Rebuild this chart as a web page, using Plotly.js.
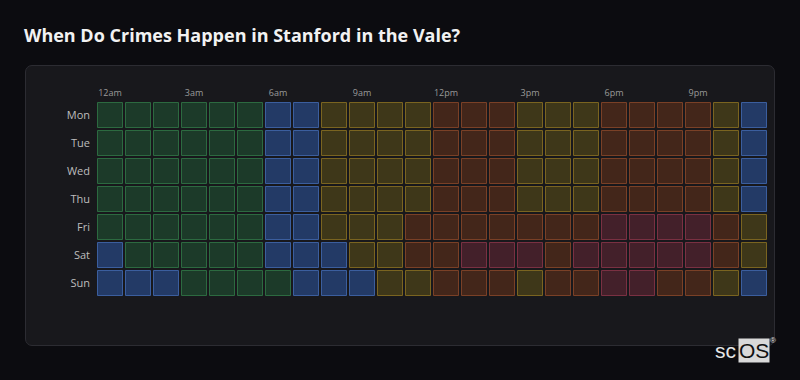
<!DOCTYPE html>
<html>
<head>
<meta charset="utf-8">
<script src="https://cdn.plot.ly/plotly-3.0.1.min.js"></script>
<style>
  html, body { margin: 0; padding: 0; background: #0c0c10; width: 800px; height: 380px; overflow: hidden; }
  #panel { position: absolute; left: 25px; top: 65px; width: 748px; height: 279px; background: #18181c; border: 1px solid #2c2c32; border-radius: 7px; }
  #chart { position: absolute; left: 0; top: 0; width: 800px; height: 380px; }
</style>
</head>
<body>
<div id="panel"></div>
<div id="chart"></div>
<script>
// ---- data ----
const days = ['Mon', 'Tue', 'Wed', 'Thu', 'Fri', 'Sat', 'Sun'];
const hours = [0, 1, 2, 3, 4, 5, 6, 7, 8, 9, 10, 11, 12, 13, 14, 15, 16, 17, 18, 19, 20, 21, 22, 23];
const hourTickValues = [0, 3, 6, 9, 12, 15, 18, 21];
const hourTickLabels = ['12am', '3am', '6am', '9am', '12pm', '3pm', '6pm', '9pm'];
// crime activity level per hour (1 = lowest ... 5 = highest)
const monLevels = [2, 2, 2, 2, 2, 2, 1, 1, 3, 3, 3, 3, 4, 4, 4, 3, 3, 3, 4, 4, 4, 4, 3, 1];
const tueLevels = [2, 2, 2, 2, 2, 2, 1, 1, 3, 3, 3, 3, 4, 4, 4, 3, 3, 3, 4, 4, 4, 4, 3, 1];
const wedLevels = [2, 2, 2, 2, 2, 2, 1, 1, 3, 3, 3, 3, 4, 4, 4, 3, 3, 3, 4, 4, 4, 4, 3, 1];
const thuLevels = [2, 2, 2, 2, 2, 2, 1, 1, 3, 3, 3, 3, 4, 4, 4, 3, 3, 3, 4, 4, 4, 4, 3, 1];
const friLevels = [2, 2, 2, 2, 2, 2, 1, 1, 3, 3, 3, 4, 4, 4, 4, 4, 4, 4, 5, 5, 5, 5, 4, 3];
const satLevels = [1, 2, 2, 2, 2, 2, 1, 1, 1, 3, 3, 4, 4, 5, 5, 5, 4, 5, 5, 5, 5, 5, 4, 3];
const sunLevels = [1, 1, 1, 2, 2, 2, 2, 1, 1, 1, 3, 3, 4, 4, 4, 3, 4, 4, 5, 5, 4, 4, 3, 1];
const levelsByDay = [monLevels, tueLevels, wedLevels, thuLevels, friLevels, satLevels, sunLevels];

// ---- styles ----
const fillColors = { 1: '#233a66', 2: '#1c3a29', 3: '#3e3719', 4: '#43261a', 5: '#43202a' };
const lineColors = { 1: '#3b5e9e', 2: '#2c6a40', 3: '#7a6420', 4: '#7a4026', 5: '#7a3042' };

const xs = [], ys = [], fills = [], lines = [], texts = [];
days.forEach((d, di) => {
  hours.forEach((h, hi) => {
    const lv = levelsByDay[di][hi];
    xs.push(h);
    ys.push(d);
    fills.push(fillColors[lv]);
    lines.push(lineColors[lv]);
    texts.push(d + ' ' + h + ':00 — level ' + lv);
  });
});

const trace = {
  type: 'scatter',
  mode: 'markers',
  x: xs,
  y: ys,
  text: texts,
  hoverinfo: 'text',
  marker: {
    symbol: 'square',
    size: 25,
    color: fills,
    line: { color: lines, width: 1 }
  },
  showlegend: false
};

const L = 96, R = 768, T = 101, B = 297;
const layout = {
  width: 800,
  height: 380,
  paper_bgcolor: 'rgba(0,0,0,0)',
  plot_bgcolor: 'rgba(0,0,0,0)',
  margin: { l: L, r: 800 - R, t: T, b: 380 - B, pad: 0 },
  font: { family: 'Open Sans, Noto Sans, sans-serif', color: '#bbbbbb' },
  title: {
    text: '<b>When Do Crimes Happen in Stanford in the Vale?</b>',
    x: 24 / 800, xanchor: 'left', xref: 'container',
    y: 1 - 36 / 380, yanchor: 'middle', yref: 'container',
    font: { family: 'Open Sans, Noto Sans, sans-serif', size: 18, color: '#f2f2f2' }
  },
  xaxis: {
    range: [-0.5, 23.5],
    side: 'top',
    tickmode: 'array',
    tickvals: hourTickValues,
    ticktext: hourTickLabels,
    showgrid: false, zeroline: false, showline: false,
    ticks: '',
    ticklabelstandoff: 2,
    tickfont: { size: 9, color: '#9a9a9a' },
    fixedrange: true
  },
  yaxis: {
    type: 'category',
    categoryorder: 'array',
    categoryarray: days,
    range: [6.5, -0.5],
    showgrid: false, zeroline: false, showline: false,
    ticks: '',
    ticklabelstandoff: 5,
    tickfont: { size: 11, color: '#bdbdbd' },
    fixedrange: true
  },
  annotations: [
    { xref: 'paper', yref: 'paper', x: (738 - L) / (R - L), y: (B - 350) / (B - T), xanchor: 'right', yanchor: 'middle',
      text: 'sc', showarrow: false, font: { family: 'Liberation Sans, Arial, sans-serif', size: 21, color: '#e6e6e6' } },
    { xref: 'paper', yref: 'paper', x: (738 - L) / (R - L), y: (B - 350) / (B - T), xanchor: 'left', yanchor: 'middle',
      text: 'OS', showarrow: false, bgcolor: '#d9d9d9', borderpad: 0,
      font: { family: 'Liberation Sans, Arial, sans-serif', size: 21, color: '#111111' } },
    { xref: 'paper', yref: 'paper', x: (773 - L) / (R - L), y: (B - 340) / (B - T), xanchor: 'center', yanchor: 'middle',
      text: '®', showarrow: false, font: { family: 'Liberation Sans, Arial, sans-serif', size: 8, color: '#e0e0e0' } }
  ]
};

Plotly.newPlot('chart', [trace], layout, { displayModeBar: false, staticPlot: true });
</script>
</body>
</html>
